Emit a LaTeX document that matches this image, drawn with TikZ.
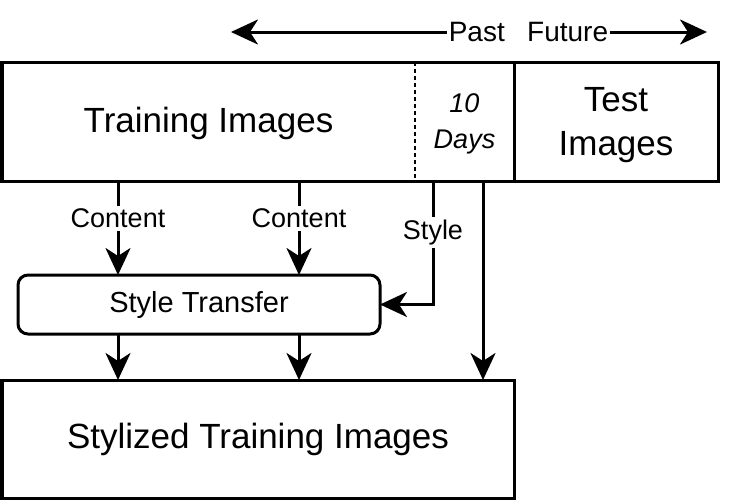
\documentclass[tikz,border=0pt]{standalone}
\usepackage{fontspec}
\setmainfont{Liberation Sans}
\usetikzlibrary{arrows.meta,positioning}

\begin{document}
\begin{tikzpicture}[x=1pt,y=-1pt,
  imgbox/.style={draw,line width=3pt,outer sep=0pt,inner sep=0pt,align=center,font=\fontsize{35}{44}\selectfont},
  txtbox/.style={outer sep=0pt,inner sep=0pt,align=center,font=\fontsize{35}{44}\selectfont},
  arr/.style={line width=3pt,-{Stealth[length=27pt,width=25pt,inset=8pt]}},
  lbl/.style={fill=white,inner sep=3pt,font=\fontsize{27}{32}\selectfont},
  timelbl/.style={inner sep=2pt,font=\fontsize{28}{32}\selectfont}]
\useasboundingbox[fill=white] (0,0) rectangle (732,501);

\node[txtbox,minimum width=413pt,minimum height=119pt,text depth=3pt] (train) at (208.5,121.5) {Training Images};
\node[txtbox,minimum width=99pt,minimum height=119pt,right=0pt of train,text depth=0pt,
  font=\fontsize{27}{36}\selectfont\itshape] (days) {10\\Days};
\node[imgbox,minimum width=204pt,minimum height=119pt,right=0pt of days,text depth=0pt] (test) {Test\\Images};
\draw[line width=3pt] (train.north west) rectangle (days.south east);
\draw[line width=1.2pt,dash pattern=on 4pt off 3pt] (days.north west) -- (days.south west);

\node[timelbl,anchor=east] (past) at (507,32) {Past};
\node[timelbl,anchor=west] (future) at (525,32) {Future};
\coordinate (pastend) at (231,32);
\coordinate (futureend) at (707,32);
\draw[arr] (past.west) -- (pastend);
\draw[arr] (future.east) -- (futureend);

\node[draw,line width=3pt,rounded corners=10pt,minimum width=362pt,minimum height=59pt,
  outer sep=0pt,font=\fontsize{29}{34}\selectfont] (transfer) at (199,304.5) {Style Transfer};
\node[imgbox,minimum width=512pt,minimum height=118pt] (stylized) at (258,439) {Stylized Training Images};

\draw[arr] ([xshift=116pt]train.south west) -- ([xshift=100pt]transfer.north west)
  node[lbl,pos=0.4] {Content};
\draw[arr] ([xshift=297pt]train.south west) -- ([xshift=281pt]transfer.north west)
  node[lbl,pos=0.4] {Content};
\draw[arr] ([xshift=18pt]days.south west) |- (transfer.east)
  node[lbl,pos=0.21] {Style};
\draw[arr] ([xshift=68pt]days.south west) -- ([xshift=481pt]stylized.north west);

\draw[arr] ([xshift=100pt]transfer.south west) -- ([xshift=116pt]stylized.north west);
\draw[arr] ([xshift=281pt]transfer.south west) -- ([xshift=297pt]stylized.north west);
\end{tikzpicture}
\end{document}
